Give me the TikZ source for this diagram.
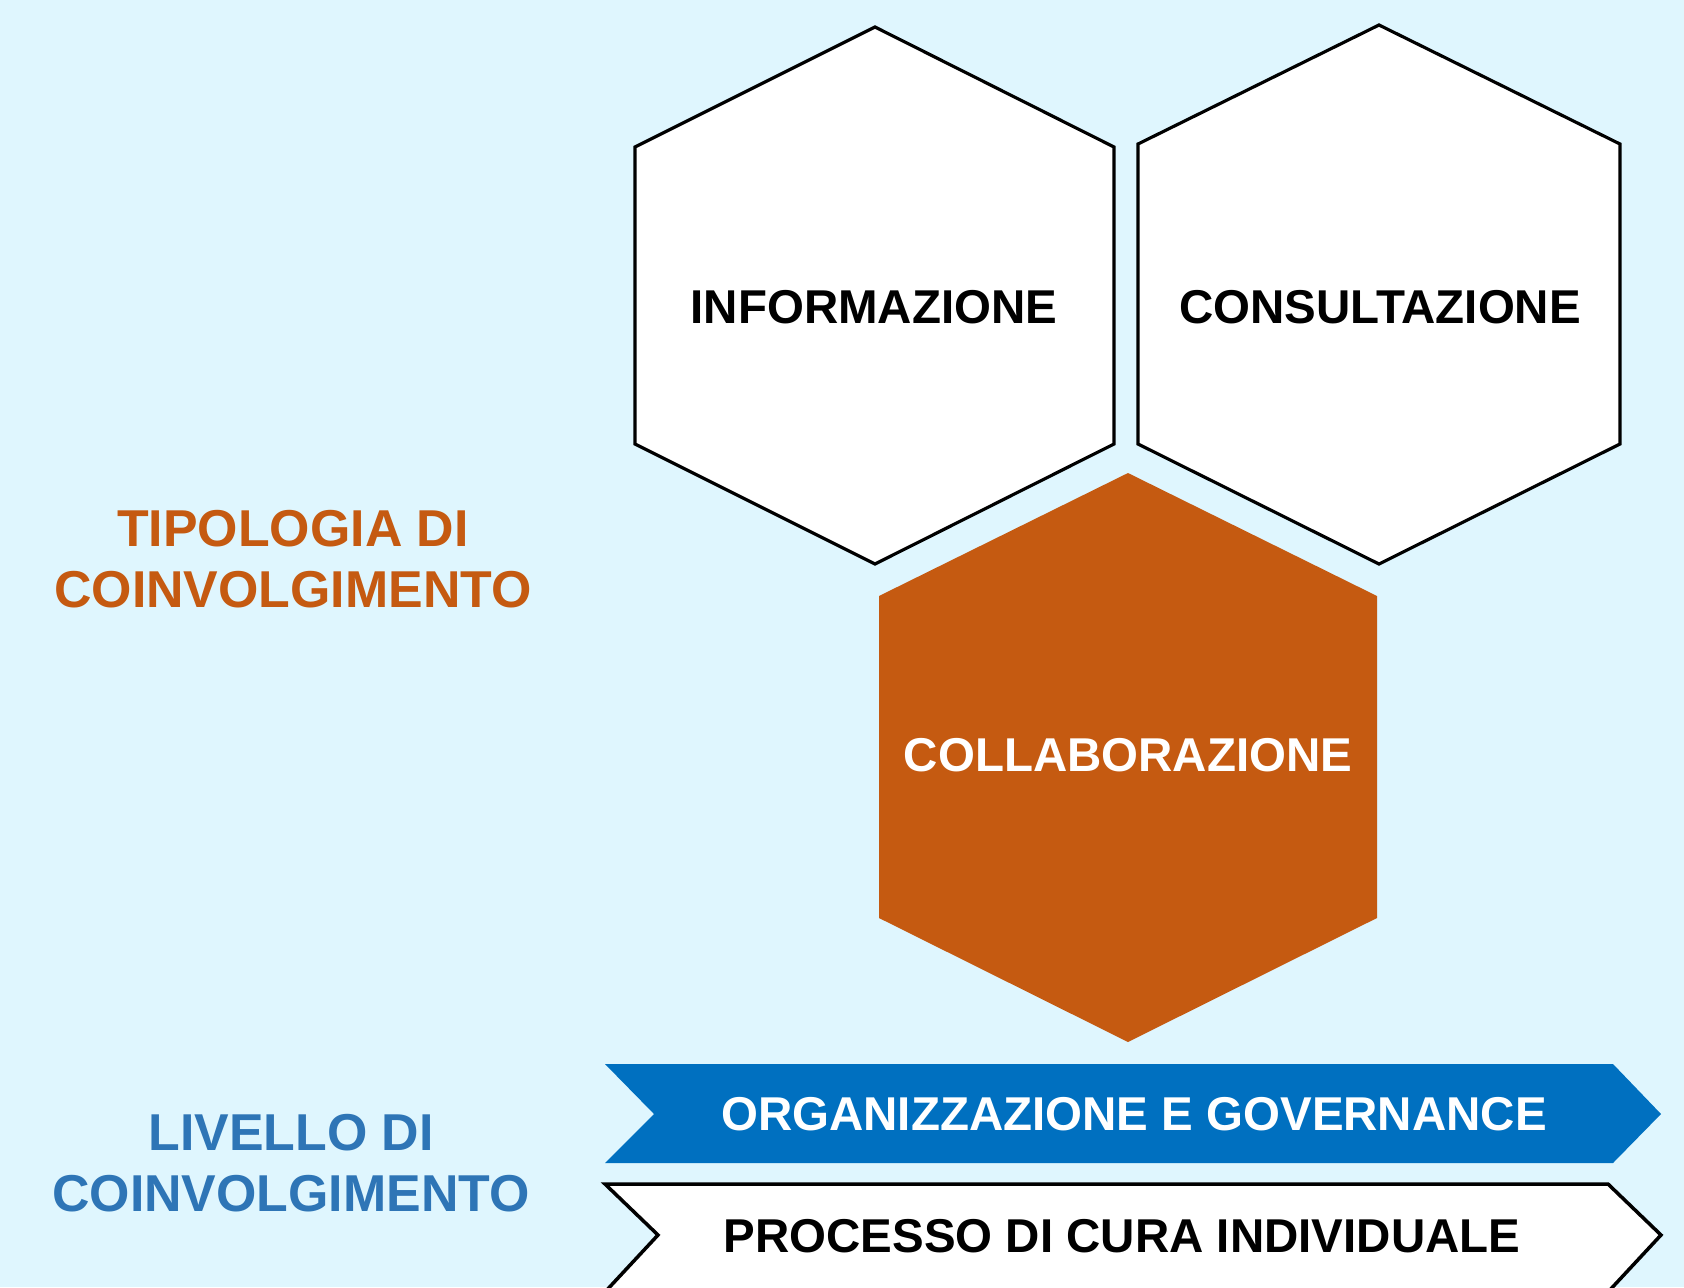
\documentclass[tikz,border=0pt]{standalone}
\usepackage{fontspec}
\setmainfont{Liberation Sans}
\usetikzlibrary{positioning}
\definecolor{bgcyan}{HTML}{DFF6FE}
\definecolor{rust}{HTML}{C55A11}
\definecolor{govblue}{HTML}{0070C0}
\definecolor{lvlblue}{HTML}{2E75B6}

\begin{document}
\begin{tikzpicture}[x=0.01cm,y=-0.01cm,
  hexbox/.style={draw=black,line width=0.9pt,fill=white},
  hexlabel/.style={font=\fontsize{13.5}{16}\selectfont\bfseries,inner sep=0pt},
  sidelabel/.style={font=\fontsize{14.75}{17.4}\selectfont\bfseries,align=center,inner sep=0pt}]
  \fill[bgcyan] (0,0) rectangle (1684,1287);
  \useasboundingbox (0,0) rectangle (1684,1287);

  % tipologia di coinvolgimento
  \draw[hexbox] (875,27) -- (1114,147) -- (1114,444) -- (875,564) -- (635,444) -- (635,147) -- cycle;
  \draw[hexbox] (1379,25) -- (1620,144) -- (1620,444) -- (1379,564) -- (1138,444) -- (1138,144) -- cycle;
  \fill[rust] (1128,473) -- (1377,596) -- (1377,918) -- (1128,1042) -- (879,918) -- (879,596) -- cycle;
  \node[hexlabel] (info) at (874,307) {INFORMAZIONE};
  \node[hexlabel] (consult) at (1380,307) {CONSULTAZIONE};
  \node[hexlabel,text=white] (collab) at (1128,755) {COLLABORAZIONE};

  % livello di coinvolgimento
  \fill[govblue] (605,1064) -- (1613,1064) -- (1661,1114) -- (1613,1163) -- (605,1163) -- (654,1114) -- cycle;
  \draw[line width=1pt,fill=white] (605,1184) -- (1608,1184) -- (1661,1235) -- (1608,1292) -- (605,1292) -- (658,1235) -- cycle;
  \node[hexlabel,text=white] (gov) at (1134,1114) {ORGANIZZAZIONE E GOVERNANCE};
  \node[hexlabel] (care) at (1122,1236) {PROCESSO DI CURA INDIVIDUALE};

  \node[sidelabel,text=rust] (typeTitle) at (293,559) {TIPOLOGIA DI\\COINVOLGIMENTO};
  \node[sidelabel,text=lvlblue] (levelTitle) at (291,1163) {LIVELLO DI\\COINVOLGIMENTO};
\end{tikzpicture}
\end{document}
